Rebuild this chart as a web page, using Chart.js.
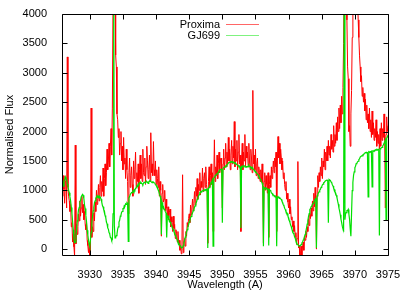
<!DOCTYPE html>
<html><head><meta charset="utf-8">
<script src="https://cdn.jsdelivr.net/npm/chart.js@4.4.1/dist/chart.umd.min.js"></script>
<style>html,body{margin:0;padding:0;background:#fff}</style>
</head><body>
<canvas id="c" width="409" height="292"></canvas>
<script>
const wavelength = [
3925.8,3925.9,3926,3926.1,3926.2,3926.3,3926.4,3926.5,3926.6,3926.7,3926.8,3926.9,3927,3927.1,3927.2,3927.3,3927.4,3927.5,3927.6,3927.7,
3927.8,3927.9,3928,3928.1,3928.2,3928.3,3928.4,3928.5,3928.6,3928.7,3928.8,3928.9,3929,3929.1,3929.2,3929.3,3929.4,3929.5,3929.6,3929.7,
3929.8,3929.9,3930,3930.1,3930.2,3930.3,3930.4,3930.5,3930.6,3930.7,3930.8,3930.9,3931,3931.1,3931.2,3931.3,3931.4,3931.5,3931.6,3931.7,
3931.8,3931.9,3932,3932.1,3932.2,3932.3,3932.4,3932.5,3932.6,3932.7,3932.8,3932.9,3933,3933.1,3933.2,3933.3,3933.4,3933.5,3933.6,3933.7,
3933.8,3933.9,3934,3934.1,3934.2,3934.3,3934.4,3934.5,3934.6,3934.7,3934.8,3934.9,3935,3935.1,3935.2,3935.3,3935.4,3935.5,3935.6,3935.7,
3935.8,3935.9,3936,3936.1,3936.2,3936.3,3936.4,3936.5,3936.6,3936.7,3936.8,3936.9,3937,3937.1,3937.2,3937.3,3937.4,3937.5,3937.6,3937.7,
3937.8,3937.9,3938,3938.1,3938.2,3938.3,3938.4,3938.5,3938.6,3938.7,3938.8,3938.9,3939,3939.1,3939.2,3939.3,3939.4,3939.5,3939.6,3939.7,
3939.8,3939.9,3940,3940.1,3940.2,3940.3,3940.4,3940.5,3940.6,3940.7,3940.8,3940.9,3941,3941.1,3941.2,3941.3,3941.4,3941.5,3941.6,3941.7,
3941.8,3941.9,3942,3942.1,3942.2,3942.3,3942.4,3942.5,3942.6,3942.7,3942.8,3942.9,3943,3943.1,3943.2,3943.3,3943.4,3943.5,3943.6,3943.7,
3943.8,3943.9,3944,3944.1,3944.2,3944.3,3944.4,3944.5,3944.6,3944.7,3944.8,3944.9,3945,3945.1,3945.2,3945.3,3945.4,3945.5,3945.6,3945.7,
3945.8,3945.9,3946,3946.1,3946.2,3946.3,3946.4,3946.5,3946.6,3946.7,3946.8,3946.9,3947,3947.1,3947.2,3947.3,3947.4,3947.5,3947.6,3947.7,
3947.8,3947.9,3948,3948.1,3948.2,3948.3,3948.4,3948.5,3948.6,3948.7,3948.8,3948.9,3949,3949.1,3949.2,3949.3,3949.4,3949.5,3949.6,3949.7,
3949.8,3949.9,3950,3950.1,3950.2,3950.3,3950.4,3950.5,3950.6,3950.7,3950.8,3950.9,3951,3951.1,3951.2,3951.3,3951.4,3951.5,3951.6,3951.7,
3951.8,3951.9,3952,3952.1,3952.2,3952.3,3952.4,3952.5,3952.6,3952.7,3952.8,3952.9,3953,3953.1,3953.2,3953.3,3953.4,3953.5,3953.6,3953.7,
3953.8,3953.9,3954,3954.1,3954.2,3954.3,3954.4,3954.5,3954.6,3954.7,3954.8,3954.9,3955,3955.1,3955.2,3955.3,3955.4,3955.5,3955.6,3955.7,
3955.8,3955.9,3956,3956.1,3956.2,3956.3,3956.4,3956.5,3956.6,3956.7,3956.8,3956.9,3957,3957.1,3957.2,3957.3,3957.4,3957.5,3957.6,3957.7,
3957.8,3957.9,3958,3958.1,3958.2,3958.3,3958.4,3958.5,3958.6,3958.7,3958.8,3958.9,3959,3959.1,3959.2,3959.3,3959.4,3959.5,3959.6,3959.7,
3959.8,3959.9,3960,3960.1,3960.2,3960.3,3960.4,3960.5,3960.6,3960.7,3960.8,3960.9,3961,3961.1,3961.2,3961.3,3961.4,3961.5,3961.6,3961.7,
3961.8,3961.9,3962,3962.1,3962.2,3962.3,3962.4,3962.5,3962.6,3962.7,3962.8,3962.9,3963,3963.1,3963.2,3963.3,3963.4,3963.5,3963.6,3963.7,
3963.8,3963.9,3964,3964.1,3964.2,3964.3,3964.4,3964.5,3964.6,3964.7,3964.8,3964.9,3965,3965.1,3965.2,3965.3,3965.4,3965.5,3965.6,3965.7,
3965.8,3965.9,3966,3966.1,3966.2,3966.3,3966.4,3966.5,3966.6,3966.7,3966.8,3966.9,3967,3967.1,3967.2,3967.3,3967.4,3967.5,3967.6,3967.7,
3967.8,3967.9,3968,3968.1,3968.2,3968.3,3968.4,3968.5,3968.6,3968.7,3968.8,3968.9,3969,3969.1,3969.2,3969.3,3969.4,3969.5,3969.6,3969.7,
3969.8,3969.9,3970,3970.1,3970.2,3970.3,3970.4,3970.5,3970.6,3970.7,3970.8,3970.9,3971,3971.1,3971.2,3971.3,3971.4,3971.5,3971.6,3971.7,
3971.8,3971.9,3972,3972.1,3972.2,3972.3,3972.4,3972.5,3972.6,3972.7,3972.8,3972.9,3973,3973.1,3973.2,3973.3,3973.4,3973.5,3973.6,3973.7,
3973.8,3973.9,3974,3974.1,3974.2,3974.3,3974.4,3974.5,3974.6,3974.7,3974.8,3974.9,3975
];
const proxima = [
1180,900,1250,1020,780,1150,1200,700,3270,1050,900,820,640,760,380,450,120,260,40,-120,
1770,90,420,250,380,600,480,820,560,700,900,620,760,500,640,420,330,450,150,60,
-60,100,-150,-40,2400,200,380,300,620,480,800,640,1000,760,860,1100,820,1050,1250,900,
1150,980,1380,900,1200,1450,1080,1300,1700,1350,1500,1800,1400,1750,2050,1600,2400,4200,5000,5000,
4500,3300,3100,2300,2200,1900,2050,1600,1800,2000,1500,1750,1350,1900,1450,1550,1200,1700,1350,1150,
600,1300,1550,1050,1250,1400,1100,900,1500,1200,1350,1650,1050,1300,1150,1450,950,1350,1600,1200,
1450,1150,1700,1300,1250,1550,1100,1400,1750,1500,1200,1350,1600,1150,1980,1300,1450,1250,1830,1350,
1250,1500,1100,1350,1200,1050,1400,900,1150,1000,220,950,1100,800,850,1000,650,850,700,560,
720,500,620,680,380,550,460,300,560,350,420,180,330,260,120,300,80,150,-20,60,
-80,40,1265,-60,100,180,50,300,220,450,380,520,600,450,750,580,700,850,650,780,
980,750,1050,900,1200,850,1100,1000,1300,920,1150,1050,1380,980,1200,1300,1050,1400,1100,1000,
100,1150,1400,1050,1250,1450,1100,1300,300,1200,1860,1150,1400,1250,1600,1200,1450,1650,1300,1500,
1550,1300,700,1450,1700,1350,1550,1800,1400,1650,1450,1900,1500,1700,1350,1600,1850,1450,1750,1550,
2170,1400,1700,1500,1850,1350,1650,1950,1450,1600,300,1500,1800,1350,1650,1500,1950,1400,1750,1550,
1650,1400,1800,1500,1350,1700,1550,1300,2700,1450,1600,1350,1700,1250,1450,1550,1200,1400,1300,1150,
1350,1150,1450,1100,100,1150,1300,1000,1250,1100,950,1300,200,1100,1250,1050,1400,1200,1350,1500,
1300,1550,1400,1650,300,1500,1915,1550,1800,1450,1700,1550,1350,1500,1200,1300,1100,1000,1150,850,
950,800,700,850,600,720,500,550,380,480,300,400,200,280,80,180,1490,20,60,-120,
-80,50,-100,60,120,-20,200,150,300,200,380,300,520,400,600,520,700,560,820,650,
950,720,1050,850,0,900,1250,1050,1300,1150,1400,1250,1550,1200,1500,1400,1700,1350,1650,1500,
1750,1500,1850,1600,1750,1550,1950,1700,1850,1650,2100,1750,1950,1800,2150,1850,2250,2000,2400,2050,
2450,2150,2600,2300,2750,3500,5000,5000,5000,4500,3900,3100,2900,2000,2100,1750,2300,2700,3600,4200,
4800,5000,5000,5000,5000,4800,4300,3900,3600,3300,3100,2850,2950,2600,2750,2500,2650,2350,2550,2200,
2450,2150,2300,2050,2400,2000,2200,1900,2350,1950,2150,1850,2050,1900,2200,1750,2000,1800,1950,1700,
2050,1750,2150,1850,2050,1900,2300,1850,700,1950,2250,2000,2100
];
const gj699 = [
1150,1120,1070,1160,1180,1230,1200,1180,1110,1070,1000,960,890,820,710,610,470,330,160,110,
120,240,340,480,580,670,710,800,830,890,890,930,915,860,750,690,575,470,320,240,
150,85,40,170,290,440,550,650,710,790,820,870,880,910,890,900,870,895,880,850,
800,740,720,670,650,570,540,460,430,360,340,280,260,200,190,150,160,600,5000,400,
190,200,230,260,340,380,460,490,560,580,630,640,690,690,740,735,770,760,790,780,
130,870,890,930,930,965,960,990,980,1010,1000,1040,1040,1075,1070,1105,1100,1130,1120,1135,
1120,1110,1095,1120,1140,1130,1125,1145,1150,1135,1120,1145,1160,1150,1155,1140,1130,1145,1140,1130,
1125,1095,1085,1060,1055,1010,985,935,905,855,250,795,745,725,685,670,635,615,200,570,
565,520,505,460,445,400,385,345,335,295,275,235,215,175,155,115,105,75,65,40,
35,20,30,60,115,150,205,240,295,330,385,415,465,490,535,555,595,615,655,675,
715,735,775,800,845,865,905,925,965,965,985,980,995,990,1005,1000,1015,1005,1015,1020,
20,1035,1045,1080,1095,1130,1145,1175,50,1205,1215,1245,1255,1275,1275,1295,1300,1330,1345,1355,
1355,1360,450,1375,1375,1395,1395,1415,1415,1440,1445,1465,1465,1480,1475,1490,1485,1490,1475,1480,
1475,1460,1465,1445,1445,1425,1425,1405,1410,1395,360,1405,1395,1415,1415,1420,1405,1410,1395,1405,
1405,1405,1425,1405,1405,1385,1385,1370,1375,1350,1345,1325,1325,1305,1305,1275,1265,1235,1225,1195,
1185,1145,1125,1075,50,1050,1035,1040,1025,1030,1015,1020,60,1015,1005,990,955,950,925,925,
915,900,905,885,50,890,875,880,865,870,855,845,815,795,755,735,695,675,635,625,
605,560,535,485,455,410,385,340,315,275,255,210,185,140,115,85,75,55,50,55,
65,75,105,120,155,175,215,250,305,355,425,480,555,605,675,690,725,735,765,775,
805,815,845,875,20,905,925,960,975,1005,1015,1050,1065,1095,1105,1130,1135,1155,1155,1170,
1175,1170,450,1185,1175,1170,1145,1130,1095,1075,1035,1015,975,955,915,875,815,765,695,645,
585,510,455,390,345,325,5000,500,605,620,655,655,675,595,505,345,220,610,995,1135,
1255,1315,1385,1410,1455,1460,1485,1495,1525,1535,1565,1565,1585,1585,1605,1605,1625,1625,1645,1635,
1645,1640,890,1655,1645,1660,1655,1665,1060,1670,1665,1680,1675,1690,1685,1695,1685,1700,1695,230,
1715,1710,1725,1730,1755,1770,1805,1825,1855,500,1885,1905,1945
];
const seriesNames = ['Proxima', 'GJ699'];
const xTickValues = [3930,3935,3940,3945,3950,3955,3960,3965,3970,3975];
const yTickValues = [0,500,1000,1500,2000,2500,3000,3500,4000];

const FONT = {family: '"Liberation Sans", Arial, sans-serif', size: 11};
const RED = '#ff0000', GREEN = '#00e000';

const boxAndLegend = {
  id: 'boxAndLegend',
  afterDatasetsDraw(chart) {
    const {ctx, chartArea: a, scales: {x, y}} = chart;
    ctx.save();
    ctx.strokeStyle = '#000';
    ctx.lineWidth = 1;
    const L = Math.round(a.left) + 0.5, R = Math.round(a.right) + 0.5;
    const T = Math.round(a.top) + 0.5, B = Math.round(a.bottom) + 0.5;
    ctx.beginPath();
    ctx.rect(L, T, R - L, B - T);
    const tl = 5;
    x.ticks.forEach(t => {
      const p = Math.round(x.getPixelForValue(t.value)) + 0.5;
      ctx.moveTo(p, B); ctx.lineTo(p, B - tl);
      ctx.moveTo(p, T); ctx.lineTo(p, T + tl);
    });
    y.ticks.forEach(t => {
      const p = Math.round(y.getPixelForValue(t.value)) + 0.5;
      ctx.moveTo(L, p); ctx.lineTo(L + tl, p);
      ctx.moveTo(R, p); ctx.lineTo(R - tl, p);
    });
    ctx.stroke();
    ctx.font = '11px "Liberation Sans", Arial, sans-serif';
    ctx.fillStyle = '#000';
    ctx.textAlign = 'right';
    ctx.textBaseline = 'middle';
    const keyColors = ['rgba(255,0,0,0.6)', 'rgba(0,230,0,0.5)'];
    seriesNames.forEach((n, i) => {
      const yy = 25 + i * 10.5;
      ctx.fillText(n, 220, yy);
      ctx.strokeStyle = keyColors[i];
      ctx.beginPath();
      ctx.moveTo(226, Math.round(yy) - 0.5);
      ctx.lineTo(259, Math.round(yy) - 0.5);
      ctx.stroke();
    });
    ctx.restore();
  }
};

new Chart(document.getElementById('c'), {
  type: 'line',
  data: {
    datasets: [
      {label: seriesNames[1], data: wavelength.map((w, i) => ({x: w, y: gj699[i]})),
       borderColor: GREEN, borderWidth: 1.2, pointRadius: 0, tension: 0, order: 0},
      {label: seriesNames[0], data: wavelength.map((w, i) => ({x: w, y: proxima[i]})),
       borderColor: RED, borderWidth: 1, pointRadius: 0, tension: 0, order: 1}
    ]
  },
  options: {
    responsive: false,
    animation: false,
    events: [],
    layout: {padding: {left: 0, right: 21, top: 14, bottom: 0}},
    plugins: {legend: {display: false}, tooltip: {enabled: false}},
    scales: {
      x: {
        type: 'linear', min: 3925.8, max: 3975,
        grid: {display: false}, border: {display: false},
        afterBuildTicks: s => { s.ticks = xTickValues.map(v => ({value: v})); },
        afterFit: s => { s.height = 37; },
        ticks: {font: FONT, color: '#000', padding: 5, maxRotation: 0, autoSkip: false,
                callback: v => String(v)},
        title: {display: true, text: 'Wavelength (A)', font: FONT, color: '#000', padding: {top: 2, bottom: 0}}
      },
      y: {
        type: 'linear', min: -100, max: 4000,
        grid: {display: false}, border: {display: false},
        afterBuildTicks: s => { s.ticks = yTickValues.map(v => ({value: v})); },
        afterFit: s => { s.width = 62; },
        ticks: {font: FONT, color: '#000', padding: 7, callback: v => String(v)},
        title: {display: true, text: 'Normalised Flux', font: FONT, color: '#000', padding: {top: 3, bottom: 0}}
      }
    }
  },
  plugins: [boxAndLegend]
});
</script>
</body></html>
